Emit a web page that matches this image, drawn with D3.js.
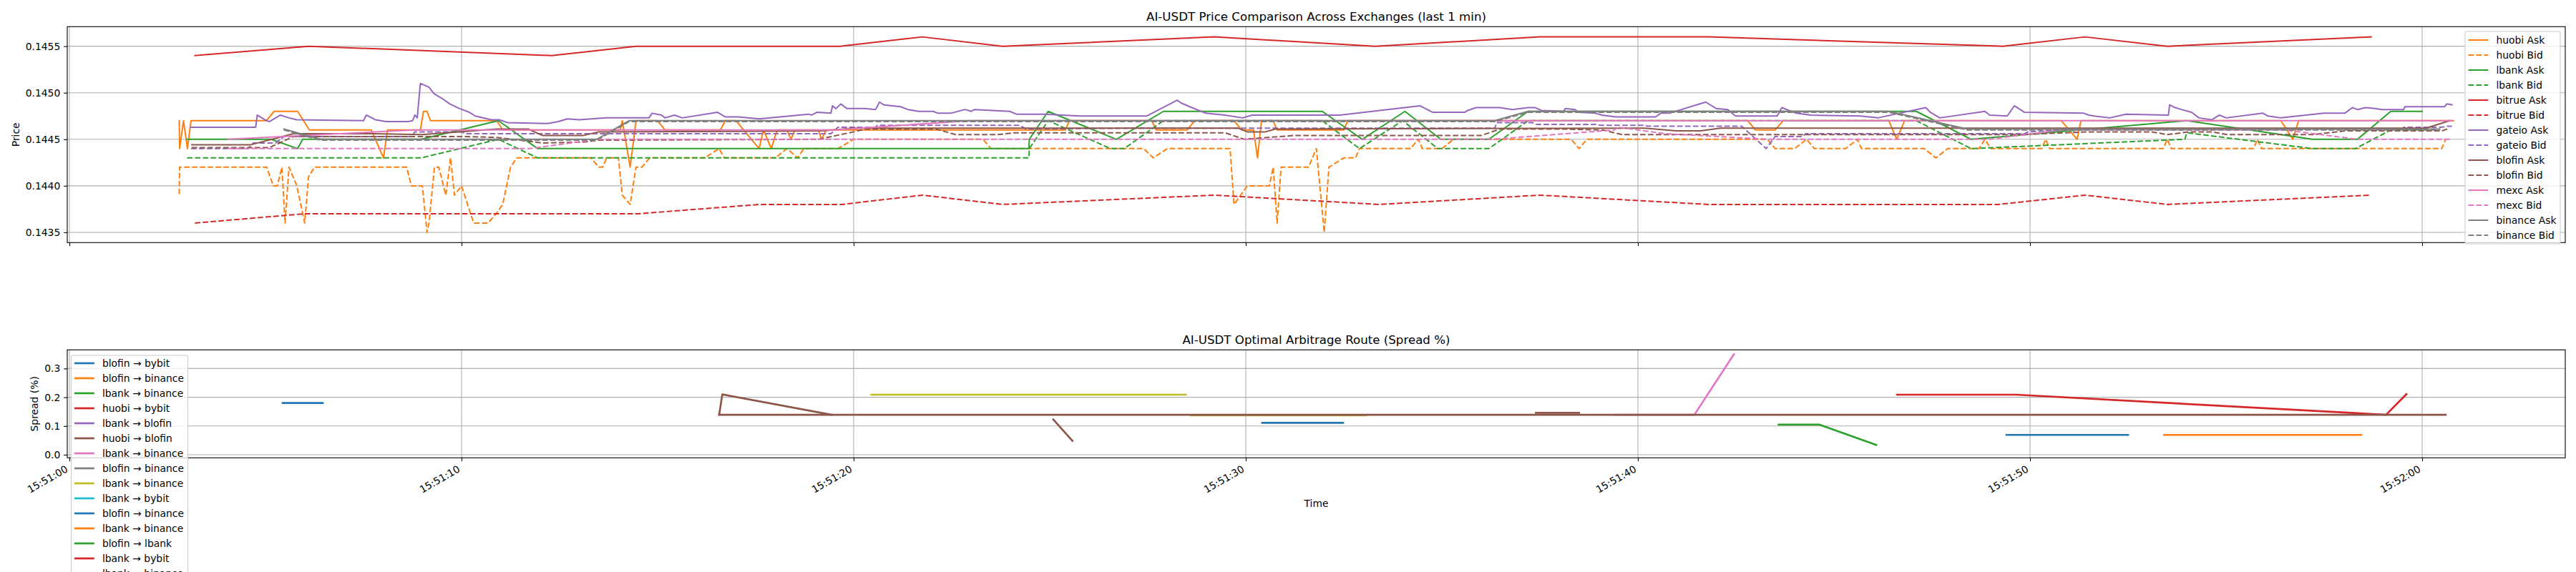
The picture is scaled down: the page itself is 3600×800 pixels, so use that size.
<!DOCTYPE html>
<html><head><meta charset="utf-8">
<script src="https://cdn.jsdelivr.net/npm/d3@7"></script>
<style>body{margin:0;background:#fff} svg{display:block} text{font-family:"DejaVu Sans",sans-serif}</style>
</head><body><svg id="c" width="3600" height="800"></svg>
<script>
// ---------------- data ----------------
const startTime = "15:51:00";
const xTickLabels = ["15:51:00","15:51:10","15:51:20","15:51:30","15:51:40","15:51:50","15:52:00"];
const priceTicks = [0.1435,0.1440,0.1445,0.1450,0.1455];
const spreadTicks = [0.0,0.1,0.2,0.3];
const seriesNames = ["huobi Ask","huobi Bid","lbank Ask","lbank Bid","bitrue Ask","bitrue Bid","gateio Ask","gateio Bid","blofin Ask","blofin Bid","mexc Ask","mexc Bid","binance Ask","binance Bid"];

// [seconds after 15:51:00, price]
const huobiAsk = [[2.80,.1447],[2.81,.1444],[2.91,.1447],[3.01,.1444],[3.10,.1447],[5.02,.1447],[5.22,.1448],[5.82,.1448],[6.12,.1446],[7.70,.1446],[8.01,.1443],[8.11,.1446],[8.95,.1446],[9.03,.1448],[9.12,.1448],[9.21,.1447],[10.9,.1447],[11.05,.1446],[14.05,.1446],[14.1,.1447],[14.3,.1442],[14.45,.1447],[15.0,.1447],[15.19,.1446],[16.6,.1446],[16.73,.1447],[17.0,.1447],[17.59,.1444],[17.7,.1446],[17.9,.1444],[18.05,.1446],[18.3,.1446],[18.4,.1445],[18.5,.1446],[19.1,.1446],[19.18,.1445],[19.3,.1446],[25.4,.1446],[25.5,.1447],[27.6,.1447],[27.72,.1446],[28.5,.1446],[28.7,.1447],[29.7,.1447],[29.9,.1446],[30.2,.1446],[30.3,.1443],[30.4,.1447],[30.7,.1447],[30.8,.1446],[32.5,.1446],[32.6,.1447],[42.8,.1447],[43.0,.1446],[43.5,.1446],[43.7,.1447],[46.4,.1447],[46.6,.1445],[46.8,.1447],[50.8,.1447],[51.2,.1445],[51.3,.1447],[56.4,.1447],[56.7,.1445],[56.85,.1447],[60.8,.1447]];
const huobiBid = [[2.8,.14391],[2.81,.1442],[5.03,.1442],[5.2,.144],[5.3,.144],[5.42,.1442],[5.5,.1436],[5.6,.1442],[5.8,.144],[6.0,.1436],[6.1,.1441],[6.25,.1442],[8.6,.1442],[8.72,.144],[9.0,.144],[9.12,.1435],[9.17,.1436],[9.31,.1442],[9.42,.1442],[9.6,.1439],[9.72,.1443],[9.82,.1439],[10.0,.144],[10.31,.1436],[10.68,.1436],[10.88,.1437],[11.05,.1438],[11.25,.1442],[11.41,.1443],[13.3,.1443],[13.5,.1442],[13.6,.1442],[13.7,.1443],[14.0,.1443],[14.1,.1439],[14.3,.1438],[14.45,.1442],[14.6,.1442],[14.8,.1443],[16.2,.1443],[16.57,.1444],[16.7,.1443],[18.0,.1443],[18.3,.1444],[18.57,.1443],[18.73,.1444],[19.6,.1444],[20.0,.1445],[23.3,.1445],[23.5,.1444],[27.4,.1444],[27.64,.1443],[28.0,.1444],[29.6,.1444],[29.7,.1438],[30.04,.144],[30.6,.144],[30.7,.1442],[30.8,.1436],[30.9,.1442],[31.6,.1442],[31.8,.1444],[32.0,.1435],[32.12,.1442],[32.5,.1443],[32.8,.1443],[32.9,.1444],[34.2,.1444],[34.4,.1445],[34.5,.1444],[35.0,.1444],[35.3,.1445],[38.3,.1445],[38.5,.1444],[38.7,.1445],[43.3,.1445],[43.5,.1444],[44.0,.1444],[44.3,.1445],[44.5,.1444],[45.3,.1444],[45.6,.1445],[45.7,.1444],[47.3,.1444],[47.6,.1443],[47.9,.1444],[48.7,.1444],[48.85,.1445],[49.0,.1444],[50.3,.1444],[50.4,.1445],[50.5,.1444],[53.4,.1444],[53.5,.1445],[53.6,.1444],[55.7,.1444],[55.8,.1445],[55.9,.1444],[60.5,.1444],[60.6,.1445]];
const lbankAsk = [[3.0,.1445],[5.14,.1445],[5.82,.1444],[5.95,.1445],[8.97,.1445],[10.94,.1447],[11.94,.1444],[24.47,.1444],[24.48,.1445],[24.96,.1448],[26.7,.1445],[27.9,.1448],[31.95,.1448],[32.97,.1445],[34.06,.1448],[34.97,.1445],[36.2,.1445],[37.2,.1448],[47.1,.1448],[48.5,.1445],[54.0,.1447],[57.2,.1445],[58.35,.1445],[59.2,.1448],[60.0,.1448]];
const lbankBid = [[3.0,.1443],[8.97,.1443],[10.94,.1445],[11.94,.1443],[24.47,.1443],[24.48,.1444],[24.96,.1447],[26.55,.1444],[26.9,.1444],[27.9,.1447],[31.95,.1447],[32.9,.1444],[34.0,.1447],[34.9,.1444],[36.2,.1444],[37.2,.1447],[47.1,.1447],[48.5,.1444],[53.95,.1445],[54.0,.14457],[57.2,.1444],[58.3,.1444],[59.2,.1446],[60.0,.1446]];
const bitrueAsk = [[3.2,.1454],[6.1,.1455],[12.3,.1454],[14.45,.1455],[19.65,.1455],[21.75,.1456],[23.8,.1455],[29.2,.1456],[33.3,.1455],[37.5,.1456],[41.8,.1456],[49.3,.1455],[51.4,.1456],[53.5,.1455],[58.7,.1456]];
const bitrueBid = [[3.2,.1436],[6.0,.1437],[14.5,.1437],[17.6,.1438],[19.7,.1438],[21.75,.1439],[23.8,.1438],[29.2,.1439],[33.4,.1438],[37.5,.1439],[41.8,.1438],[49.2,.1438],[51.4,.1439],[53.5,.1438],[58.7,.1439]];
const gateioAsk = [[3.1,.14463],[4.75,.14463],[4.79,.14476],[4.98,.14471],[5.1,.14469],[5.38,.14476],[5.6,.14473],[5.8,.14471],[7.5,.1447],[7.57,.14476],[7.8,.14471],[8.07,.14469],[8.64,.14469],[8.75,.1447],[8.81,.14476],[8.87,.14473],[8.95,.1451],[9.17,.14506],[9.3,.14499],[9.5,.14494],[9.7,.14488],[9.95,.14483],[10.2,.14479],[10.35,.14475],[10.76,.14471],[10.96,.14471],[11.17,.14468],[12.2,.14467],[12.47,.14469],[12.7,.14472],[13.0,.14471],[13.7,.14473],[14.78,.14473],[14.86,.14478],[15.1,.14476],[15.19,.14473],[15.43,.14476],[15.63,.14473],[16.53,.14479],[16.73,.14474],[17.06,.14474],[17.59,.14472],[18.85,.14477],[18.93,.14476],[19.06,.14479],[19.42,.14478],[19.46,.14486],[19.55,.14483],[19.67,.14488],[19.83,.14483],[20.28,.14483],[20.56,.14482],[20.66,.1449],[20.77,.14487],[21.2,.14485],[21.38,.14482],[21.66,.1448],[22.03,.1448],[22.15,.14478],[22.48,.14478],[22.84,.14482],[23.0,.1448],[23.08,.14482],[23.98,.1448],[24.15,.14477],[24.88,.14477],[25.78,.14475],[27.47,.14475],[28.25,.14492],[28.35,.14489],[28.57,.14485],[28.98,.14478],[29.47,.14476],[29.92,.14473],[30.16,.14476],[32.4,.14476],[34.44,.14486],[34.77,.14479],[35.58,.14479],[35.66,.14481],[35.87,.14484],[36.48,.14484],[36.8,.14482],[37.2,.14484],[37.38,.14484],[37.54,.14481],[38.1,.1448],[38.15,.14483],[38.4,.14482],[38.47,.14479],[38.92,.14478],[39.08,.14476],[39.44,.14474],[40.45,.14474],[40.58,.14478],[40.8,.14478],[41.73,.1449],[42.0,.14483],[42.29,.14482],[42.49,.14475],[43.55,.14475],[43.67,.14484],[44.04,.14478],[44.41,.14476],[45.67,.14475],[46.12,.14473],[47.34,.14484],[47.46,.14479],[47.7,.14473],[48.85,.1448],[48.97,.14476],[49.42,.14475],[49.6,.14486],[49.86,.14479],[51.37,.14478],[51.5,.14476],[51.64,.14475],[52.03,.14473],[52.45,.14477],[53.53,.14476],[53.56,.14487],[53.7,.14484],[53.86,.14482],[54.12,.14479],[54.31,.14473],[54.64,.14471],[54.83,.14476],[55.0,.14473],[55.94,.14478],[56.07,.14475],[56.4,.14473],[57.5,.14478],[58.03,.14478],[58.22,.14484],[58.35,.14482],[58.55,.14484],[58.8,.14483],[58.97,.14482],[59.53,.14482],[59.56,.14485],[60.57,.14485],[60.63,.14488],[60.76,.14487]];
const gateioBid = [[3.1,.1444],[4.55,.1444],[4.69,.14446],[5.26,.14446],[5.47,.14453],[8.75,.14453],[8.8,.14458],[10.0,.14458],[10.1,.14456],[19.42,.14456],[19.6,.14463],[20.56,.14463],[20.6,.14465],[24.23,.14465],[24.4,.14461],[27.06,.14462],[36.35,.14462],[36.4,.14468],[37.3,.14468],[37.38,.14466],[38.9,.14466],[39.08,.14465],[40.17,.14465],[40.25,.14464],[42.65,.14464],[43.27,.1444],[43.5,.14453],[44.2,.14453],[44.28,.14456],[49.86,.14456],[49.95,.14458],[51.5,.14461],[59.5,.14461],[59.53,.14463],[60.5,.14463],[60.63,.14464],[60.76,.14464]];
const blofinAsk = [[3.12,.14444],[4.61,.14444],[5.71,.14456],[7.75,.14456],[9.0,.14455],[10.9,.14461],[11.7,.14461],[12.07,.14454],[13.1,.14454],[13.5,.14458],[19.2,.14459],[20.0,.14462],[29.8,.14462],[30.04,.14458],[30.5,.14458],[30.75,.14461],[40.17,.14462],[40.98,.14459],[41.6,.14459],[42.1,.14462],[60.1,.14462],[60.7,.1447]];
const blofinBid = [[3.12,.14441],[5.1,.14441],[5.71,.14453],[10.0,.14453],[10.9,.14452],[12.07,.14446],[13.1,.14447],[13.5,.14449],[19.1,.1445],[20.0,.14458],[20.3,.14461],[22.1,.14461],[22.6,.14455],[23.66,.14455],[24.1,.14457],[29.47,.14457],[29.96,.1445],[31.2,.14454],[36.0,.14454],[36.48,.14461],[38.1,.14461],[39.1,.1446],[39.6,.14455],[49.7,.14455],[51.5,.14458],[53.1,.14458],[53.5,.14455],[54.05,.14458],[54.64,.14458],[55.03,.14455],[57.2,.14455],[58.03,.14459],[60.5,.14459],[60.7,.14462]];
const mexcAsk = [[4.04,.1445],[8.8,.1446],[19.5,.1446],[22.96,.1447],[60.76,.1447]];
const mexcBid = [[4.05,.1444],[11.74,.1444],[13.3,.14449],[13.6,.1445],[36.3,.1445],[39.4,.1446],[39.5,.14463],[40.7,.14456],[43.35,.1445],[48.95,.1445],[50.8,.1446],[56.5,.1446],[58.35,.1445],[60.76,.1445]];
const binanceAsk = [[5.47,.14461],[6.4,.1445],[13.45,.1445],[14.27,.1447],[36.35,.1447],[37.2,.1448],[46.4,.1448],[48.4,.14461],[60.45,.14461]];
const binanceBid = [[5.47,.1446],[6.4,.14449],[13.45,.14449],[14.27,.14469],[36.35,.14469],[37.2,.14479],[46.4,.14479],[48.4,.1446],[60.45,.1446]];
const priceSeries = [huobiAsk,huobiBid,lbankAsk,lbankBid,bitrueAsk,bitrueBid,gateioAsk,gateioBid,blofinAsk,blofinBid,mexcAsk,mexcBid,binanceAsk,binanceBid];

// arbitrage routes: name list and spread (%) segments [seconds, spread]
const routeNames = ["blofin → bybit","blofin → binance","lbank → binance","huobi → bybit","lbank → blofin","huobi → blofin","lbank → binance","blofin → binance","lbank → binance","lbank → bybit","blofin → binance","lbank → binance","blofin → lbank","lbank → bybit","lbank → binance","huobi → blofin"];
const routeSpreads = [
  [[[5.44,.18],[6.46,.18]]],
  [[[53.42,.069],[58.45,.069]]],
  [[[43.59,.105],[44.62,.105],[46.08,.034]]],
  [[[46.61,.209],[49.65,.209],[59.08,.139],[59.6,.211]]],
  [],
  [[[16.57,.139],[16.65,.21],[19.44,.139]],[[25.09,.123],[25.58,.048]],[[37.4,.146],[38.5,.146]]],
  [[[39.43,.139],[41.44,.139],[42.45,.35]]],
  [],
  [[[20.45,.209],[28.47,.209]],[[28.6,.137],[33.07,.137]]],
  [],
  [[[30.42,.111],[32.48,.111]],[[49.4,.069],[52.5,.069]]],
  [],
  [],
  [],
  [],
  [[[16.57,.139],[60.6,.139]]]
];

// ---------------- drawing ----------------
const tab10 = ["#1f77b4","#ff7f0e","#2ca02c","#d62728","#9467bd","#8c564b","#e377c2","#7f7f7f","#bcbd22","#17becf"];
const FS = 13.89;
const svg = d3.select("#c");
const parseT = d3.timeParse("%H:%M:%S");
const base = parseT(startTime);
const toDate = s => new Date(base.getTime() + s * 1000);
const tickDates = xTickLabels.map(parseT);

const X0 = 94, X1 = 3585;
const topB = {y0: 37.3, y1: 339.3};
const botB = {y0: 489.3, y1: 640.3};
const x = d3.scaleTime().domain([toDate(-0.055), toDate(63.65)]).range([X0, X1]);
const yP = d3.scaleLinear().domain([0.14339, 0.14571]).range([topB.y1, topB.y0]);
const yS = d3.scaleLinear().domain([-0.0107, 0.365]).range([botB.y1, botB.y0]);

const defs = svg.append("defs");
[["clipTop", topB], ["clipBot", botB]].forEach(([id, b]) => {
  defs.append("clipPath").attr("id", id).append("rect")
    .attr("x", X0).attr("y", b.y0).attr("width", X1 - X0).attr("height", b.y1 - b.y0);
});

function grid(b, yScale, yTicks) {
  const g = svg.append("g").attr("stroke", "#b0b0b0").attr("stroke-width", 1.1);
  tickDates.forEach(d => g.append("line").attr("x1", x(d)).attr("x2", x(d)).attr("y1", b.y0).attr("y2", b.y1));
  yTicks.forEach(v => g.append("line").attr("x1", X0).attr("x2", X1).attr("y1", yScale(v)).attr("y2", yScale(v)));
}
function styleAxis(g) {
  g.attr("font-family", "DejaVu Sans").attr("font-size", FS);
  g.select(".domain").remove();
  g.selectAll(".tick line").attr("stroke", "#000").attr("stroke-width", 1.1);
  g.selectAll(".tick text").attr("fill", "#000");
}
function spines(b) {
  svg.append("rect").attr("x", X0).attr("y", b.y0).attr("width", X1 - X0).attr("height", b.y1 - b.y0)
    .attr("fill", "none").attr("stroke", "#000").attr("stroke-width", 1.1);
}

// ---- top chart ----
grid(topB, yP, priceTicks);
const lineP = d3.line().x(d => x(toDate(d[0]))).y(d => yP(d[1]));
const gTop = svg.append("g").attr("clip-path", "url(#clipTop)");
priceSeries.forEach((data, i) => {
  const dashed = i % 2 === 1;
  gTop.append("path").attr("d", lineP(data)).attr("fill", "none")
    .attr("stroke", tab10[1 + Math.floor(i / 2)]).attr("stroke-width", 2)
    .attr("stroke-linejoin", "round").attr("stroke-linecap", dashed ? "butt" : "square")
    .attr("stroke-dasharray", dashed ? "7.7,3.3" : null);
});
spines(topB);
svg.append("g").attr("transform", `translate(${X0},0)`)
  .call(d3.axisLeft(yP).tickValues(priceTicks).tickFormat(d3.format(".4f")).tickSize(4.86).tickPadding(4.86))
  .call(styleAxis);
svg.append("g").attr("transform", `translate(0,${topB.y1})`)
  .call(d3.axisBottom(x).tickValues(tickDates).tickFormat("").tickSize(4.86))
  .call(styleAxis);
svg.append("text").attr("x", (X0 + X1) / 2).attr("y", 29).attr("text-anchor", "middle")
  .attr("font-size", 16.67).text("AI-USDT Price Comparison Across Exchanges (last 1 min)");
svg.append("text").attr("transform", `translate(26.8,${(topB.y0 + topB.y1) / 2}) rotate(-90)`)
  .attr("text-anchor", "middle").attr("font-size", FS).text("Price");

// ---- bottom chart ----
grid(botB, yS, spreadTicks);
const lineS = d3.line().x(d => x(toDate(d[0]))).y(d => yS(d[1]));
const gBot = svg.append("g").attr("clip-path", "url(#clipBot)");
routeSpreads.forEach((segs, i) => {
  segs.forEach(seg => {
    gBot.append("path").attr("d", lineS(seg)).attr("fill", "none")
      .attr("stroke", tab10[i % 10]).attr("stroke-width", 2.7)
      .attr("stroke-linejoin", "round").attr("stroke-linecap", "square");
  });
});
spines(botB);
svg.append("g").attr("transform", `translate(${X0},0)`)
  .call(d3.axisLeft(yS).tickValues(spreadTicks).tickFormat(d3.format(".1f")).tickSize(4.86).tickPadding(4.86))
  .call(styleAxis);
const gxb = svg.append("g").attr("transform", `translate(0,${botB.y1})`)
  .call(d3.axisBottom(x).tickValues(tickDates).tickFormat((d, i) => xTickLabels[i]).tickSize(4.86))
  .call(styleAxis);
gxb.selectAll(".tick text").attr("x", 0).attr("y", 0).attr("dy", null)
  .attr("text-anchor", "end").attr("transform", "translate(-1.6,18.5) rotate(-30)");
svg.append("text").attr("x", (X0 + X1) / 2).attr("y", 481).attr("text-anchor", "middle")
  .attr("font-size", 16.67).text("AI-USDT Optimal Arbitrage Route (Spread %)");
svg.append("text").attr("x", (X0 + X1) / 2).attr("y", 709).attr("text-anchor", "middle")
  .attr("font-size", FS).text("Time");
svg.append("text").attr("transform", `translate(53.3,${(botB.y0 + botB.y1) / 2}) rotate(-90)`)
  .attr("text-anchor", "middle").attr("font-size", FS).text("Spread (%)");

// ---- legends ----
function legend(x0, y0, firstCenter, items, lw) {
  const g = svg.append("g");
  const box = g.append("rect").attr("x", x0).attr("y", y0).attr("rx", 2.8).attr("ry", 2.8)
    .attr("fill", "#fff").attr("fill-opacity", 0.8).attr("stroke", "#cccccc").attr("stroke-width", 1.1);
  let maxW = 0;
  items.forEach((it, i) => {
    const cy = firstCenter + 21 * i;
    g.append("line").attr("x1", x0 + 4.5).attr("x2", x0 + 32.3).attr("y1", cy).attr("y2", cy)
      .attr("stroke", it.color).attr("stroke-width", lw).attr("stroke-dasharray", it.dash ? "7.7,3.3" : null);
    const t = g.append("text").attr("x", x0 + 43.4).attr("y", cy + 5).attr("font-size", FS).attr("fill", "#000").text(it.name);
    maxW = Math.max(maxW, t.node().getComputedTextLength());
  });
  const h = (firstCenter - y0) * 2 + 21 * (items.length - 1);
  box.attr("width", 43.4 + maxW + 5.6).attr("height", h);
}
legend(3445, 44, 56, seriesNames.map((n, i) => ({name: n, color: tab10[1 + Math.floor(i / 2)], dash: i % 2 === 1})), 2);
legend(99.5, 497, 508, routeNames.map((n, i) => ({name: n, color: tab10[i % 10], dash: false})), 2.7);
</script>
</body></html>
